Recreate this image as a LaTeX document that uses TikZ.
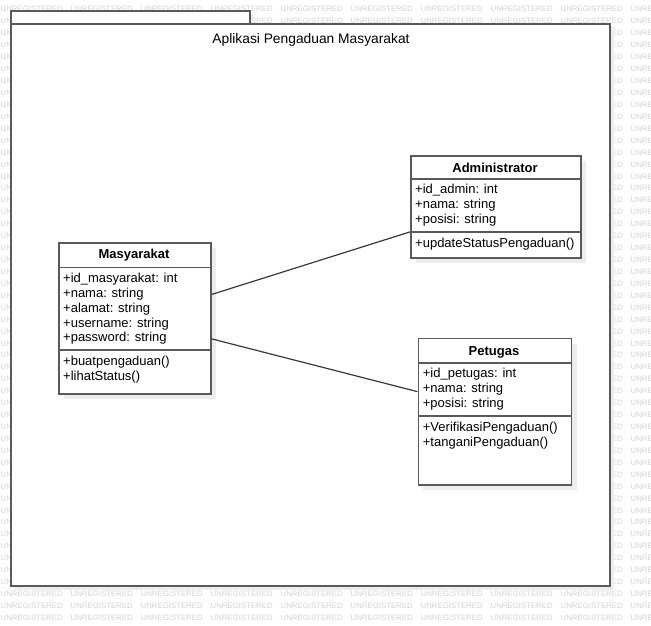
\documentclass[tikz,border=0pt]{standalone}
\usepackage{fontspec}
\setmainfont{Liberation Sans}
\definecolor{edge}{HTML}{5A5A5A}
\definecolor{wm}{HTML}{D4D4D4}
\definecolor{shade}{HTML}{EDEDED}
\definecolor{conn}{HTML}{3A3A3A}
\tikzset{
  wmtext/.style={inner sep=0pt, anchor=west, text=wm, font=\fontsize{7.8}{8}\selectfont},
  shadowbox/.style={fill=shade, draw=none},
  framebox/.style={draw=edge, line width=1.8pt, fill=white},
  classbox/.style={draw=edge, line width=1.8pt, fill=white, inner sep=0pt},
  divider/.style={draw=edge, line width=1.8pt},
  ctitle/.style={inner sep=0pt, anchor=base, font=\fontsize{13}{15}\selectfont\bfseries},
  attr/.style={inner sep=0pt, anchor=base west, font=\fontsize{13}{15}\selectfont},
  ftitle/.style={inner sep=0pt, anchor=base, font=\fontsize{13.8}{16}\selectfont},
  assoc/.style={draw=conn, line width=1.2pt},
}
\begin{document}
\begin{tikzpicture}[x=1pt,y=-1pt]
\useasboundingbox (0,0) rectangle (651,626);
\fill[white] (0,0) rectangle (651,626);
% watermark
\foreach \r in {0,...,51}{
  \foreach \c in {0,...,9}{
    \node[wmtext] (wm-\r-\c) at (70*\c+0.5, 9.3+11.93*\r) {UNREGISTERED};
  }
}
% frame (package)
\fill[shadowbox] (14,14) rectangle (253,27);
\fill[shadowbox] (14,27) rectangle (614,590);
\node[framebox, minimum width=239pt, minimum height=13pt, inner sep=0pt, anchor=north west] (tab) at (10,10) {};
\node[framebox, minimum width=599pt, minimum height=562pt, inner sep=0pt, anchor=north west] (frame) at (10,23) {};
\node[ftitle] (ftitle) at (311,43.5) {Aplikasi Pengaduan Masyarakat};
% shadows of classes
\fill[shadowbox] (64,248) rectangle (216,399);
\fill[shadowbox] (416,161) rectangle (586,263);
\fill[shadowbox] (423,344) rectangle (577,490);
% Masyarakat
\node[classbox, minimum width=152pt, minimum height=151pt, anchor=north west] (mas) at (58,242) {};
\draw[divider] (mas.west |- 0,267.5) -- (mas.east |- 0,267.5);
\draw[divider] (mas.west |- 0,350) -- (mas.east |- 0,350);
\node[ctitle] (mas-t) at (134,258.8) {Masyarakat};
\node[attr] (mas-a1) at (63,282.6) {+id\_masyarakat: int};
\node[attr] (mas-a2) at (63,297.5) {+nama: string};
\node[attr] (mas-a3) at (63,312.3) {+alamat: string};
\node[attr] (mas-a4) at (63,327.2) {+username: string};
\node[attr] (mas-a5) at (63,341.8) {+password: string};
\node[attr] (mas-m1) at (63,365.5) {+buatpengaduan()};
\node[attr] (mas-m2) at (63,380) {+lihatStatus()};
% Administrator
\node[classbox, minimum width=170pt, minimum height=102pt, anchor=north west] (adm) at (410,155) {};
\draw[divider] (adm.west |- 0,179) -- (adm.east |- 0,179);
\draw[divider] (adm.west |- 0,232) -- (adm.east |- 0,232);
\node[ctitle] (adm-t) at (495,172.2) {Administrator};
\node[attr] (adm-a1) at (415,193.8) {+id\_admin: int};
\node[attr] (adm-a2) at (415,208.8) {+nama: string};
\node[attr] (adm-a3) at (415,223.2) {+posisi: string};
\node[attr] (adm-m1) at (415,247.8) {+updateStatusPengaduan()};
% Petugas
\node[classbox, minimum width=153pt, minimum height=146.5pt, anchor=north west] (pet) at (417.5,337.5) {};
\draw[divider] (pet.west |- 0,363) -- (pet.east |- 0,363);
\draw[divider] (pet.west |- 0,416) -- (pet.east |- 0,416);
\node[ctitle] (pet-t) at (494,355.2) {Petugas};
\node[attr] (pet-a1) at (422.7,377.8) {+id\_petugas: int};
\node[attr] (pet-a2) at (422.7,392.8) {+nama: string};
\node[attr] (pet-a3) at (422.7,407.4) {+posisi: string};
\node[attr] (pet-m1) at (422.7,431.2) {+VerifikasiPengaduan()};
\node[attr] (pet-m2) at (422.7,446.2) {+tanganiPengaduan()};
% associations
\draw[assoc] ([yshift=24pt]mas.east) -- ([yshift=-25pt]adm.west);
\draw[assoc] ([yshift=-20.5pt]mas.east) -- ([yshift=20pt]pet.west);
\end{tikzpicture}
\end{document}
